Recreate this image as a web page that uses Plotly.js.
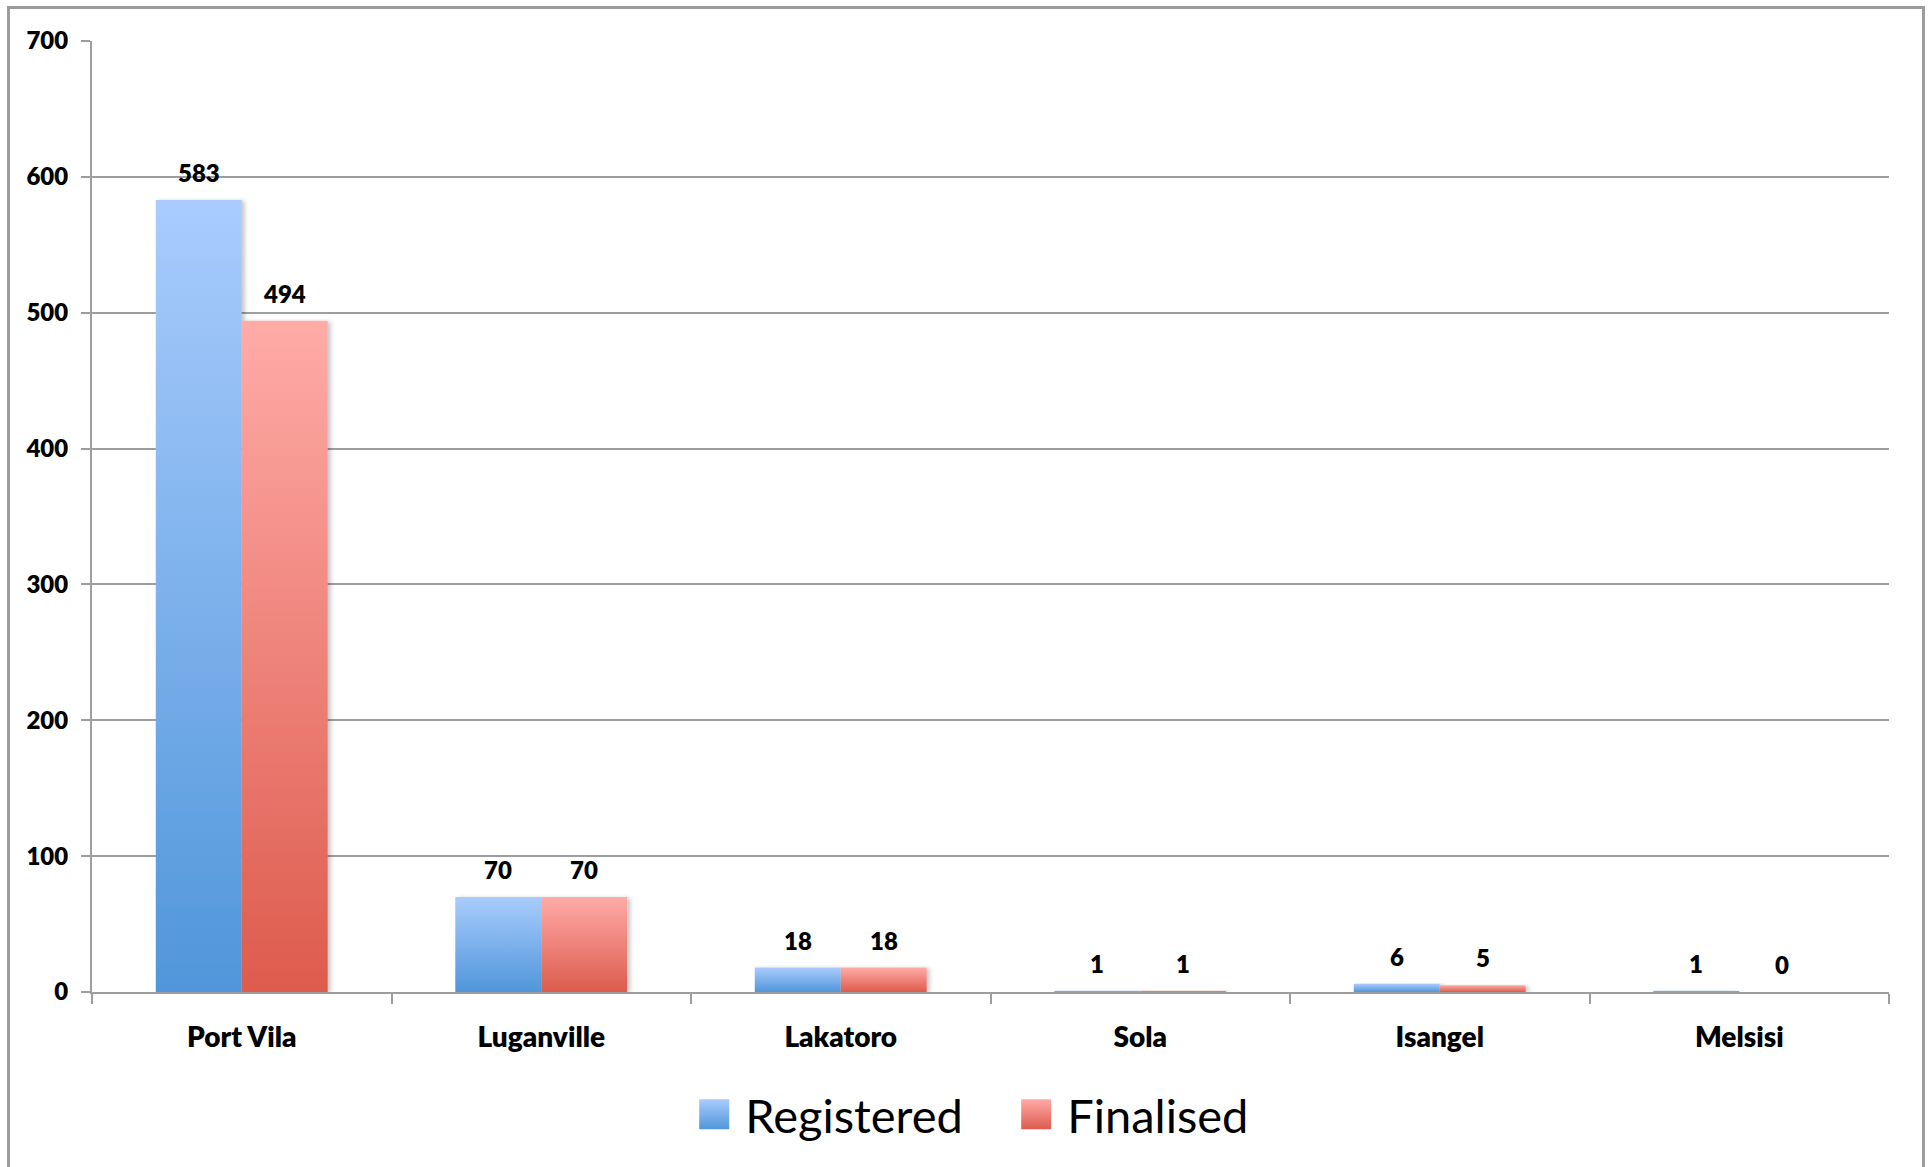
<!DOCTYPE html>
<html><head><meta charset="utf-8">
<script src="https://cdn.plot.ly/plotly-3.0.1.min.js"></script>
<style>
html,body{margin:0;padding:0;overflow:hidden;background:#fff}
#chart{width:1930px;height:1167px}
#frame{position:absolute;left:7px;top:6px;width:1912px;height:1300px;border:3px solid #9c9c9c;pointer-events:none}
</style></head><body>
<div id="chart"></div><div id="frame"></div>
<script>
const categories = ['Port Vila', 'Luganville', 'Lakatoro', 'Sola', 'Isangel', 'Melsisi'];
const registered = [583, 70, 18, 1, 6, 1];
const finalised = [494, 70, 18, 1, 5, 0];
const seriesNames = ['Registered', 'Finalised'];
const yTicks = [0, 100, 200, 300, 400, 500, 600, 700];

const gridColor = '#9e9e9e';
const bargap = 0.426;
const series = [registered, finalised];
const baseColors = ['#7fb0ec', '#f08a82'];
const gradStops = [['#a9ccfd', '#5096da'], ['#ffaba7', '#dd5b4d']];
const boldW = 800;

const data = series.map((vals, k) => ({
  type: 'bar',
  name: seriesNames[k],
  x: categories,
  y: vals,
  marker: {color: baseColors[k], line: {width: 0}},
  hoverinfo: 'skip'
}));

const half = (1 - bargap) / 4;
const annotations = [];
series.forEach((vals, k) => {
  vals.forEach((v, i) => {
    annotations.push({
      x: i + (k === 0 ? -half : half), y: v, xref: 'x', yref: 'y',
      text: String(v), showarrow: false, yanchor: 'bottom', yshift: 11,
      font: {family: 'Lato', size: 24, weight: boldW, color: '#000'}
    });
  });
});

const layout = {
  width: 1930, height: 1167,
  margin: {l: 92, r: 41, t: 41, b: 175},
  paper_bgcolor: 'rgba(0,0,0,0)', plot_bgcolor: 'rgba(0,0,0,0)',
  barmode: 'group', bargap: bargap, bargroupgap: 0,
  showlegend: true,
  legend: {
    orientation: 'h', x: 0.329, xanchor: 'left', y: -0.129, yanchor: 'middle',
    font: {family: 'Lato', size: 47, color: '#000'}, itemwidth: 52,
    entrywidth: 255, entrywidthmode: 'pixels',
    bgcolor: 'rgba(0,0,0,0)'
  },
  xaxis: {
    type: 'category', tickson: 'boundaries', ticks: 'outside', ticklen: 10, tickwidth: 2,
    tickcolor: gridColor, showline: true, linecolor: gridColor, linewidth: 2,
    showgrid: false, ticklabelstandoff: 19,
    tickfont: {family: 'Lato', size: 28, weight: boldW, color: '#000'}
  },
  yaxis: {
    range: [0, 700], tickvals: yTicks, ticktext: yTicks.map(String),
    ticks: 'outside', ticklen: 9, tickwidth: 2, tickcolor: gridColor,
    showline: true, linecolor: gridColor, linewidth: 2,
    showgrid: true, gridcolor: gridColor, gridwidth: 2, zeroline: false,
    ticklabelstandoff: 8,
    tickfont: {family: 'Lato', size: 24, weight: boldW, color: '#000'}
  },
  annotations: annotations
};

Plotly.newPlot('chart', data, layout, {staticPlot: true}).then(gd => {
  const ns = 'http://www.w3.org/2000/svg';
  const svg = gd.querySelector('svg.main-svg');
  let defs = svg.querySelector('defs');
  if (!defs) { defs = document.createElementNS(ns, 'defs'); svg.insertBefore(defs, svg.firstChild); }
  gradStops.forEach((st, k) => {
    const g = document.createElementNS(ns, 'linearGradient');
    g.setAttribute('id', 'barGrad' + k);
    g.setAttribute('x1', '0'); g.setAttribute('y1', '0'); g.setAttribute('x2', '0'); g.setAttribute('y2', '1');
    st.forEach((c, j) => {
      const s = document.createElementNS(ns, 'stop');
      s.setAttribute('offset', j === 0 ? '0' : '1');
      s.setAttribute('stop-color', c);
      g.appendChild(s);
    });
    defs.appendChild(g);
  });
  const f = document.createElementNS(ns, 'filter');
  f.setAttribute('id', 'barShadow');
  f.setAttribute('x', '-10%'); f.setAttribute('y', '-10%'); f.setAttribute('width', '130%'); f.setAttribute('height', '130%');
  const ds = document.createElementNS(ns, 'feDropShadow');
  ds.setAttribute('dx', '3'); ds.setAttribute('dy', '1'); ds.setAttribute('stdDeviation', '2');
  ds.setAttribute('flood-color', '#000'); ds.setAttribute('flood-opacity', '0.22');
  f.appendChild(ds);
  defs.appendChild(f);

  gd.querySelectorAll('.barlayer .trace').forEach((tr, k) => {
    tr.querySelectorAll('path').forEach(p => {
      p.style.fill = 'url(#barGrad' + k + ')';
      p.setAttribute('filter', 'url(#barShadow)');
    });
  });
  gd.querySelectorAll('.legend .traces').forEach((tr, k) => {
    tr.querySelectorAll('.legendpoints path').forEach(p => {
      p.setAttribute('d', 'M15,15H-15V-15H15Z');
      p.style.fill = 'url(#barGrad' + k + ')';
      p.style.stroke = 'none';
    });
  });
});
</script>
</body></html>
